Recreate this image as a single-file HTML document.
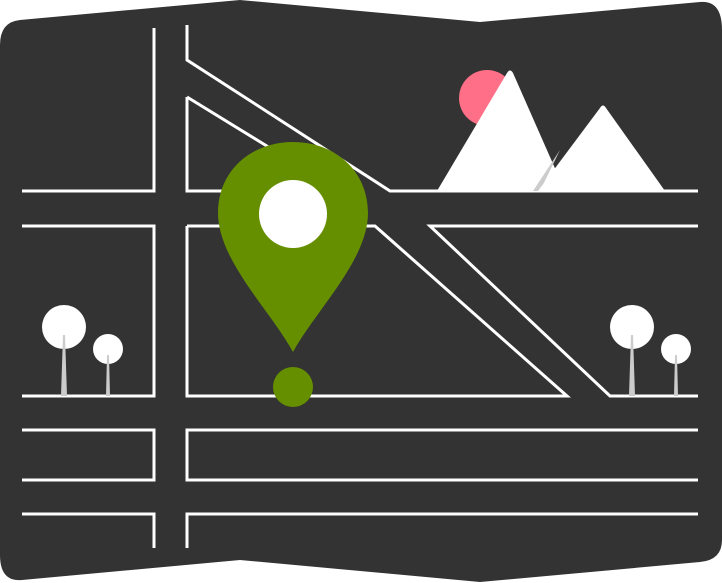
<!DOCTYPE html>
<html><head><style>html,body{margin:0;padding:0;background:#fff}svg{display:block}</style></head>
<body>
<svg width="722" height="583" viewBox="0 0 722 583" xmlns="http://www.w3.org/2000/svg">
<path d="M20 20 L240 0 L480 22 L700 2 Q722 0 722 30 L722 540 Q722 560 700 562 L480 582 L240 560 L22 580 Q0 582 0 555 L0 45 Q0 22 20 20 Z" fill="#333"/>
<g fill="none" stroke="#fff" stroke-width="3">
<polyline points="22,191 154,191 154,28"/>
<polyline points="187,25 187,60 390,191 698,191"/>
<polyline points="187,97 187,191 340,191 187,97"/>
<polyline points="22,226 154,226 154,396 22,396"/>
<polyline points="187,226 375,226 567,396 187,396 187,226"/>
<polyline points="698,226 430,226 610,396 698,396"/>
<polyline points="22,430 154,430 154,480 22,480"/>
<polyline points="698,430 187,430 187,480 698,480"/>
<polyline points="22,514 154,514 154,548"/>
<polyline points="187,548 187,514 698,514"/>
</g>
<circle cx="487" cy="98" r="28" fill="#ff6f87"/>
<path d="M437 191 L507 73 Q510 68 513 73 L565 191 Z" fill="#fff"/>
<path d="M560 150 L533 191 L540 191 Z" fill="#ccc"/>
<path d="M538 191 L600 108 Q603 103 606 108 L665 191 Z" fill="#fff"/>
<g fill="#fff">
<circle cx="64" cy="327" r="22"/><circle cx="108" cy="349" r="15"/>
<circle cx="632" cy="327" r="22"/><circle cx="676" cy="349" r="15"/>
</g>
<g fill="#ccc">
<path d="M63 335 L65 335 L67 396 L61 396 Z"/><path d="M107 355 L109 355 L110 396 L106 396 Z"/>
<path d="M631 335 L633 335 L635 396 L629 396 Z"/><path d="M675 355 L677 355 L678 396 L674 396 Z"/>
</g>
<path d="M293 352 C270 310 218 260 218 213 C218 170 252 142 293 142 C334 142 368 170 368 213 C368 260 316 310 293 352 Z" fill="#668f00"/>
<circle cx="293" cy="214" r="34" fill="#fff"/>
<circle cx="293" cy="387" r="20" fill="#668f00"/>
</svg>
</body></html>
